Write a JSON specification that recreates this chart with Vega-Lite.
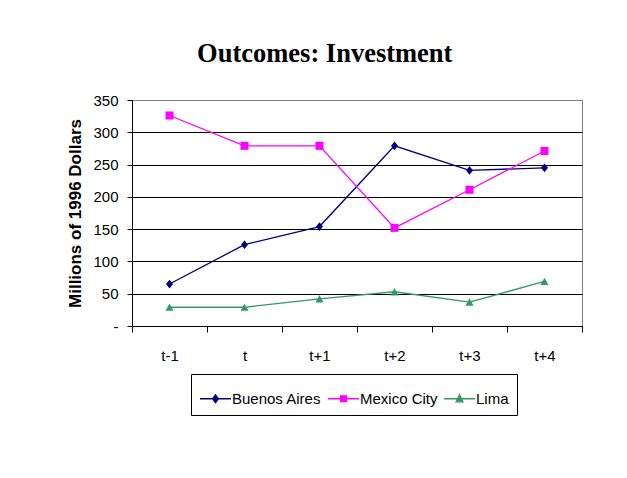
{
  "$schema": "https://vega.github.io/schema/vega-lite/v6.json",
  "width": 450,
  "height": 226,
  "autosize": {"type": "none"},
  "padding": {"left": 132, "top": 100, "right": 45, "bottom": 152},
  "background": "white",
  "title": {
    "text": "Outcomes: Investment",
    "font": "Liberation Serif",
    "fontSize": 26.5,
    "fontWeight": "bold",
    "color": "black",
    "anchor": "middle",
    "frame": "bounds",
    "baseline": "alphabetic",
    "offset": 5
  },
  "config": {
    "view": {"stroke": "#808080", "strokeWidth": 1},
    "axis": {
      "labelFont": "Liberation Sans",
      "labelFontSize": 15,
      "labelColor": "black",
      "titleFont": "Liberation Sans",
      "titleColor": "black",
      "domainColor": "black",
      "tickColor": "black"
    }
  },
  "data": {
    "values": [
      {"city": "Buenos Aires", "period": "t-1", "value": 65},
      {"city": "Buenos Aires", "period": "t", "value": 126},
      {"city": "Buenos Aires", "period": "t+1", "value": 154},
      {"city": "Buenos Aires", "period": "t+2", "value": 279},
      {"city": "Buenos Aires", "period": "t+3", "value": 241},
      {"city": "Buenos Aires", "period": "t+4", "value": 245},
      {"city": "Mexico City", "period": "t-1", "value": 326},
      {"city": "Mexico City", "period": "t", "value": 279},
      {"city": "Mexico City", "period": "t+1", "value": 279},
      {"city": "Mexico City", "period": "t+2", "value": 152},
      {"city": "Mexico City", "period": "t+3", "value": 211},
      {"city": "Mexico City", "period": "t+4", "value": 271},
      {"city": "Lima", "period": "t-1", "value": 29},
      {"city": "Lima", "period": "t", "value": 29},
      {"city": "Lima", "period": "t+1", "value": 42},
      {"city": "Lima", "period": "t+2", "value": 53},
      {"city": "Lima", "period": "t+3", "value": 37},
      {"city": "Lima", "period": "t+4", "value": 69}
    ]
  },
  "encoding": {
    "x": {
      "field": "period",
      "type": "ordinal",
      "sort": ["t-1", "t", "t+1", "t+2", "t+3", "t+4"],
      "scale": {"type": "band", "paddingInner": 0, "paddingOuter": 0},
      "axis": {
        "title": null,
        "labelAngle": 0,
        "tickBand": "extent",
        "tickSize": 6,
        "labelPadding": 16,
        "grid": false,
        "domainColor": "black"
      }
    },
    "y": {
      "field": "value",
      "type": "quantitative",
      "scale": {"domain": [0, 350], "nice": false, "zero": true},
      "axis": {
        "title": "Millions of 1996 Dollars",
        "titleFontSize": 17,
        "titleFontWeight": "bold",
        "titlePadding": 8,
        "values": [0, 50, 100, 150, 200, 250, 300, 350],
        "labelExpr": "datum.value == 0 ? '-' : datum.label",
        "tickSize": 5,
        "labelPadding": 9,
        "grid": true,
        "gridColor": {"condition": {"test": "datum.value == 350", "value": "#808080"}, "value": "black"},
        "gridOpacity": 1,
        "gridWidth": 1
      }
    },
    "color": {
      "field": "city",
      "type": "nominal",
      "scale": {"domain": ["Buenos Aires", "Mexico City", "Lima"], "range": ["#000080", "#FF00FF", "#339966"]},
      "legend": {
        "title": null,
        "orient": "none",
        "legendX": 59,
        "legendY": 274,
        "direction": "horizontal",
        "strokeColor": "black",
        "fillColor": "white",
        "padding": 8,
        "labelFont": "Liberation Sans",
        "labelFontSize": 15,
        "labelColor": "black",
        "labelOffset": 0,
        "columnPadding": 3,
        "symbolSize": 961,
        "symbolStrokeWidth": 1.3,
        "encode": {
          "symbols": {
            "update": {
              "shape": {"signal": "datum.value === 'Buenos Aires' ? 'M-1,0H1M0,-0.25L0.19,0L0,0.25L-0.19,0Z' : datum.value === 'Mexico City' ? 'M-1,0H1M-0.19,-0.19H0.19V0.19H-0.19Z' : 'M-1,0H1M0,-0.26L0.22,0.2H-0.22Z'"},
              "stroke": {"scale": "color", "field": "value"},
              "fill": {"scale": "color", "field": "value"},
              "strokeWidth": {"value": 1.3},
              "opacity": {"value": 1}
            }
          }
        }
      }
    }
  },
  "layer": [
    {"mark": {"type": "line", "strokeWidth": 1.3}},
    {
      "transform": [{"filter": "datum.city === 'Buenos Aires'"}],
      "mark": {"type": "point", "filled": true, "opacity": 1, "size": 64, "shape": "M0,-1.1L0.875,0L0,1.1L-0.875,0Z"}
    },
    {
      "transform": [{"filter": "datum.city === 'Mexico City'"}],
      "mark": {"type": "point", "filled": true, "opacity": 1, "size": 64, "shape": "M-1,-1H1V1H-1Z"}
    },
    {
      "transform": [{"filter": "datum.city === 'Lima'"}],
      "mark": {"type": "point", "filled": true, "opacity": 1, "size": 64, "shape": "M0,-0.95L1,0.9L-1,0.9Z"}
    }
  ]
}
